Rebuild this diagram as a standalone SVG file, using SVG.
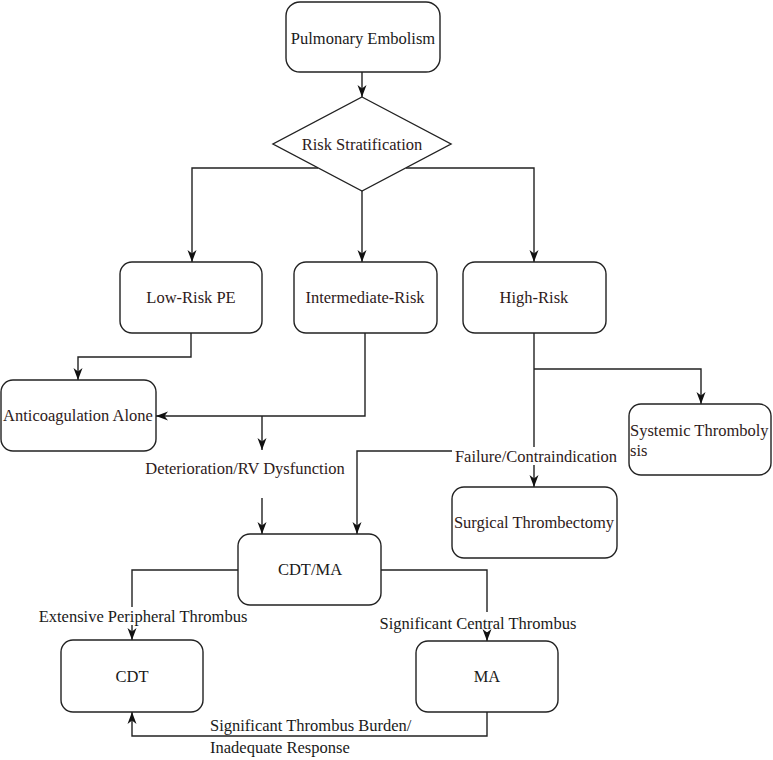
<svg xmlns="http://www.w3.org/2000/svg" width="773" height="760" viewBox="0 0 773 760">
<defs>
<marker id="arr" viewBox="0 0 12 10" refX="12" refY="5" markerWidth="12" markerHeight="10" markerUnits="userSpaceOnUse" orient="auto">
<path d="M0,0.5 L12,5 L0,9.5 L3.5,5 z" fill="#111"/>
</marker>
<style>
.box{fill:#fff;stroke:#222;stroke-width:1.4}
.t{font-family:"Liberation Serif","Times New Roman",serif;font-size:16.5px;fill:#2e1a1a;text-anchor:middle;dominant-baseline:central}
.tb{font-family:"Liberation Serif","Times New Roman",serif;font-size:16.5px;fill:#1a1a1a;text-anchor:middle;dominant-baseline:central}
.l{text-anchor:start}
.c{fill:none;stroke:#222;stroke-width:1.4}
.a{marker-end:url(#arr)}
</style>
</defs>
<rect width="773" height="760" fill="#fff"/>
<g id="connectors">
<path class="c a" d="M362,72 V97"/>
<path class="c a" d="M318,168 H192 V262"/>
<path class="c a" d="M362,191 V262"/>
<path class="c a" d="M406,168 H534 V262"/>
<path class="c a" d="M191,333 V357 H78 V380"/>
<path class="c a" d="M365,333 V416 H156"/>
<path class="c a" d="M262,416 V450"/>
<path class="c a" d="M262,498 V534"/>
<path class="c" d="M534,333 V447"/>
<path class="c a" d="M534,465 V487"/>
<path class="c a" d="M534,369 H701 V404"/>
<path class="c a" d="M452,451 H357 V534"/>
<path class="c" d="M238,570 H132 V607"/>
<path class="c a" d="M132,625 V640"/>
<path class="c" d="M381,570 H487 V612"/>
<path class="c a" d="M487,632 V641"/>
<path class="c a" d="M487,712 V736 H132 V712"/>
<text class="t" x="245" y="468">Deterioration/RV Dysfunction</text>
<text class="t" x="536" y="456">Failure/Contraindication</text>
<text class="tb" x="143" y="616">Extensive Peripheral Thrombus</text>
<text class="tb" x="478" y="623">Significant Central Thrombus</text>
<text class="tb l" x="210" y="725">Significant Thrombus Burden/</text>
<text class="tb l" x="210" y="747">Inadequate Response</text>
</g>
<g id="pe"><rect class="box" x="286" y="2" width="154" height="70" rx="14"/><text class="tb" x="363" y="38">Pulmonary Embolism</text></g>
<g id="risk"><path class="box" d="M362,97 L451,144 L362,191 L273,144 Z"/><text class="t" x="362" y="144">Risk Stratification</text></g>
<g id="low"><rect class="box" x="120" y="262" width="142" height="71" rx="12"/><text class="t" x="191" y="297">Low-Risk PE</text></g>
<g id="intermediate"><rect class="box" x="294" y="262" width="143" height="71" rx="12"/><text class="t" x="365" y="297">Intermediate-Risk</text></g>
<g id="high"><rect class="box" x="463" y="262" width="143" height="71" rx="12"/><text class="t" x="534" y="297">High-Risk</text></g>
<g id="anticoag"><rect class="box" x="1" y="380" width="155" height="71" rx="12"/><text class="t" x="78" y="415">Anticoagulation Alone</text></g>
<g id="systemic"><rect class="box" x="629" y="404" width="142" height="71" rx="12"/><text class="t l" x="630" y="430">Systemic Thromboly</text><text class="t l" x="630" y="450">sis</text></g>
<g id="surgical"><rect class="box" x="452" y="487" width="165" height="71" rx="12"/><text class="t" x="534" y="522">Surgical Thrombectomy</text></g>
<g id="cdtma"><rect class="box" x="238" y="534" width="143" height="71" rx="12"/><text class="tb" x="310" y="569">CDT/MA</text></g>
<g id="cdt"><rect class="box" x="61" y="640" width="142" height="72" rx="12"/><text class="tb" x="132" y="676">CDT</text></g>
<g id="ma"><rect class="box" x="416" y="641" width="142" height="71" rx="12"/><text class="tb" x="487" y="676">MA</text></g>
</svg>
